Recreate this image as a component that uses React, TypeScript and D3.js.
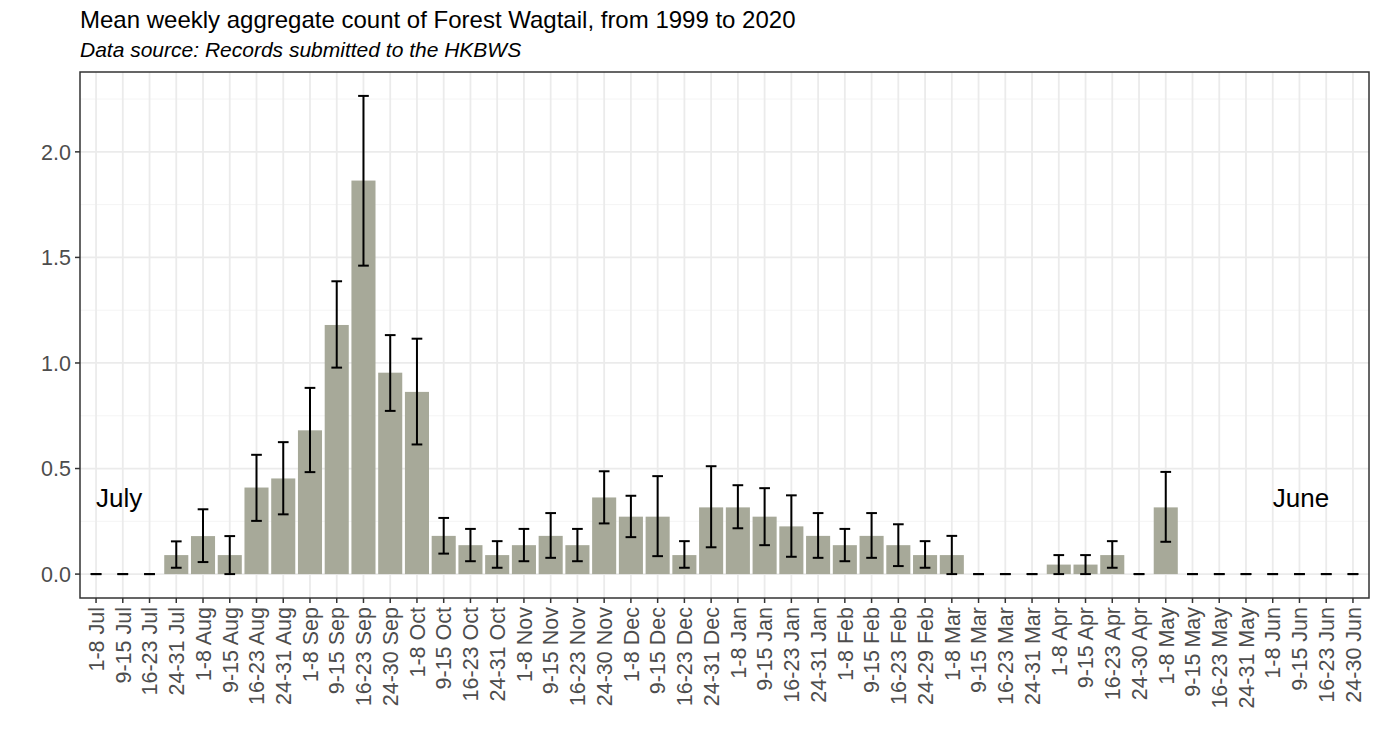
import * as d3 from "d3"

const weeks = [
  "1-8 Jul", "9-15 Jul", "16-23 Jul", "24-31 Jul",
  "1-8 Aug", "9-15 Aug", "16-23 Aug", "24-31 Aug",
  "1-8 Sep", "9-15 Sep", "16-23 Sep", "24-30 Sep",
  "1-8 Oct", "9-15 Oct", "16-23 Oct", "24-31 Oct",
  "1-8 Nov", "9-15 Nov", "16-23 Nov", "24-30 Nov",
  "1-8 Dec", "9-15 Dec", "16-23 Dec", "24-31 Dec",
  "1-8 Jan", "9-15 Jan", "16-23 Jan", "24-31 Jan",
  "1-8 Feb", "9-15 Feb", "16-23 Feb", "24-29 Feb",
  "1-8 Mar", "9-15 Mar", "16-23 Mar", "24-31 Mar",
  "1-8 Apr", "9-15 Apr", "16-23 Apr", "24-30 Apr",
  "1-8 May", "9-15 May", "16-23 May", "24-31 May",
  "1-8 Jun", "9-15 Jun", "16-23 Jun", "24-30 Jun",
]

const means = [
  0, 0, 0, 0.09,
  0.18, 0.09, 0.41, 0.453,
  0.681, 1.18, 1.864, 0.954,
  0.863, 0.181, 0.137, 0.09,
  0.137, 0.181, 0.137, 0.363,
  0.272, 0.272, 0.09, 0.316,
  0.316, 0.272, 0.226, 0.181,
  0.137, 0.181, 0.137, 0.09,
  0.09, 0, 0, 0,
  0.045, 0.045, 0.09, 0,
  0.316, 0, 0, 0,
  0, 0, 0, 0,
]

const lower = [
  0, 0, 0, 0.03,
  0.057, 0, 0.252, 0.283,
  0.483, 0.978, 1.461, 0.773,
  0.614, 0.097, 0.061, 0.03,
  0.061, 0.077, 0.061, 0.24,
  0.175, 0.085, 0.03, 0.127,
  0.217, 0.137, 0.082, 0.077,
  0.061, 0.077, 0.038, 0.03,
  0, 0, 0, 0,
  0, 0, 0.03, 0,
  0.153, 0, 0, 0,
  0, 0, 0, 0,
]

const upper = [
  0, 0, 0, 0.155,
  0.307, 0.18, 0.565, 0.625,
  0.882, 1.387, 2.265, 1.132,
  1.115, 0.266, 0.214, 0.156,
  0.214, 0.289, 0.214, 0.487,
  0.371, 0.464, 0.156, 0.511,
  0.421, 0.407, 0.373, 0.289,
  0.214, 0.289, 0.236, 0.156,
  0.181, 0, 0, 0,
  0.09, 0.09, 0.156, 0,
  0.484, 0, 0, 0,
  0, 0, 0, 0,
]

const yTicks = [0, 0.5, 1, 1.5, 2]
const yMinor = [0.25, 0.75, 1.25, 1.75, 2.25]

const annotations = [
  { week: "1-8 Jul", value: 0.32, text: "July" },
  { week: "1-8 Jun", value: 0.32, text: "June" },
]

const W = 1380
const H = 751
const left = 80
const right = 1369
const top = 72
const bottom = 598
const font = "'Liberation Sans', Arial, Helvetica, sans-serif"

export default function App() {
  const x = d3.scalePoint<string>().domain(weeks).range([left, right]).padding(0.6)
  const step = x.step()

  const hiMax = d3.max(upper) ?? 0
  const pad = hiMax * 0.05
  const y = d3.scaleLinear().domain([-pad, hiMax + pad]).range([bottom, top])

  const barW = step * 0.9
  const capW = step * 0.4

  return (
    <div style={{ position: "fixed", left: 0, top: 0, width: W, height: H, background: "#fff" }}>
      <svg width={W} height={H} viewBox={`0 0 ${W} ${H}`} fontFamily={font}>
        <rect x={0} y={0} width={W} height={H} fill="#fff" />

        <text x={80} y={28} fontSize={24} fill="#000">
          Mean weekly aggregate count of Forest Wagtail, from 1999 to 2020
        </text>
        <text x={80} y={57} fontSize={21} fontStyle="italic" fill="#000">
          Data source: Records submitted to the HKBWS
        </text>

        {/* grid */}
        <g>
          {yMinor.map((t) => (
            <line key={`mn${t}`} x1={left} x2={right} y1={y(t)} y2={y(t)} stroke="#f4f4f4" strokeWidth={1} />
          ))}
          {yTicks.map((t) => (
            <line key={`mj${t}`} x1={left} x2={right} y1={y(t)} y2={y(t)} stroke="#ebebeb" strokeWidth={1.8} />
          ))}
          {weeks.map((w) => (
            <line key={`v${w}`} x1={x(w)} x2={x(w)} y1={top} y2={bottom} stroke="#ebebeb" strokeWidth={1.8} />
          ))}
        </g>

        {/* bars */}
        <g>
          {weeks.map((w, i) => (
            <rect
              key={`b${w}`}
              x={(x(w) ?? 0) - barW / 2}
              y={y(means[i])}
              width={barW}
              height={y(0) - y(means[i])}
              fill="#a7a999"
            />
          ))}
        </g>

        {/* error bars */}
        <g stroke="#000" strokeWidth={2} fill="none">
          {weeks.map((w, i) => {
            const cx = x(w) ?? 0
            return (
              <g key={`e${w}`}>
                <line x1={cx} x2={cx} y1={y(lower[i])} y2={y(upper[i])} />
                <line x1={cx - capW / 2} x2={cx + capW / 2} y1={y(upper[i])} y2={y(upper[i])} />
                <line x1={cx - capW / 2} x2={cx + capW / 2} y1={y(lower[i])} y2={y(lower[i])} />
              </g>
            )
          })}
        </g>

        {annotations.map((a) => (
          <text key={a.text} x={x(a.week)} y={y(a.value)} fontSize={26} fill="#000">
            {a.text}
          </text>
        ))}

        {/* panel border */}
        <rect x={left} y={top} width={right - left} height={bottom - top} fill="none" stroke="#333" strokeWidth={1.5} />

        {/* y axis */}
        <g>
          {yTicks.map((t) => (
            <g key={`yt${t}`}>
              <line x1={left - 5} x2={left} y1={y(t)} y2={y(t)} stroke="#333" strokeWidth={1.5} />
              <text x={left - 9} y={y(t)} dy="0.36em" textAnchor="end" fontSize={21.5} fill="#4d4d4d">
                {d3.format(".1f")(t)}
              </text>
            </g>
          ))}
        </g>

        {/* x axis */}
        <g>
          {weeks.map((w) => {
            const cx = x(w) ?? 0
            return (
              <g key={`xt${w}`}>
                <line x1={cx} x2={cx} y1={bottom} y2={bottom + 5} stroke="#333" strokeWidth={1.5} />
                <text
                  transform={`translate(${cx},${bottom + 9}) rotate(-90)`}
                  dy="0.36em"
                  textAnchor="end"
                  fontSize={21.5}
                  fill="#4d4d4d"
                >
                  {w}
                </text>
              </g>
            )
          })}
        </g>
      </svg>
    </div>
  )
}
